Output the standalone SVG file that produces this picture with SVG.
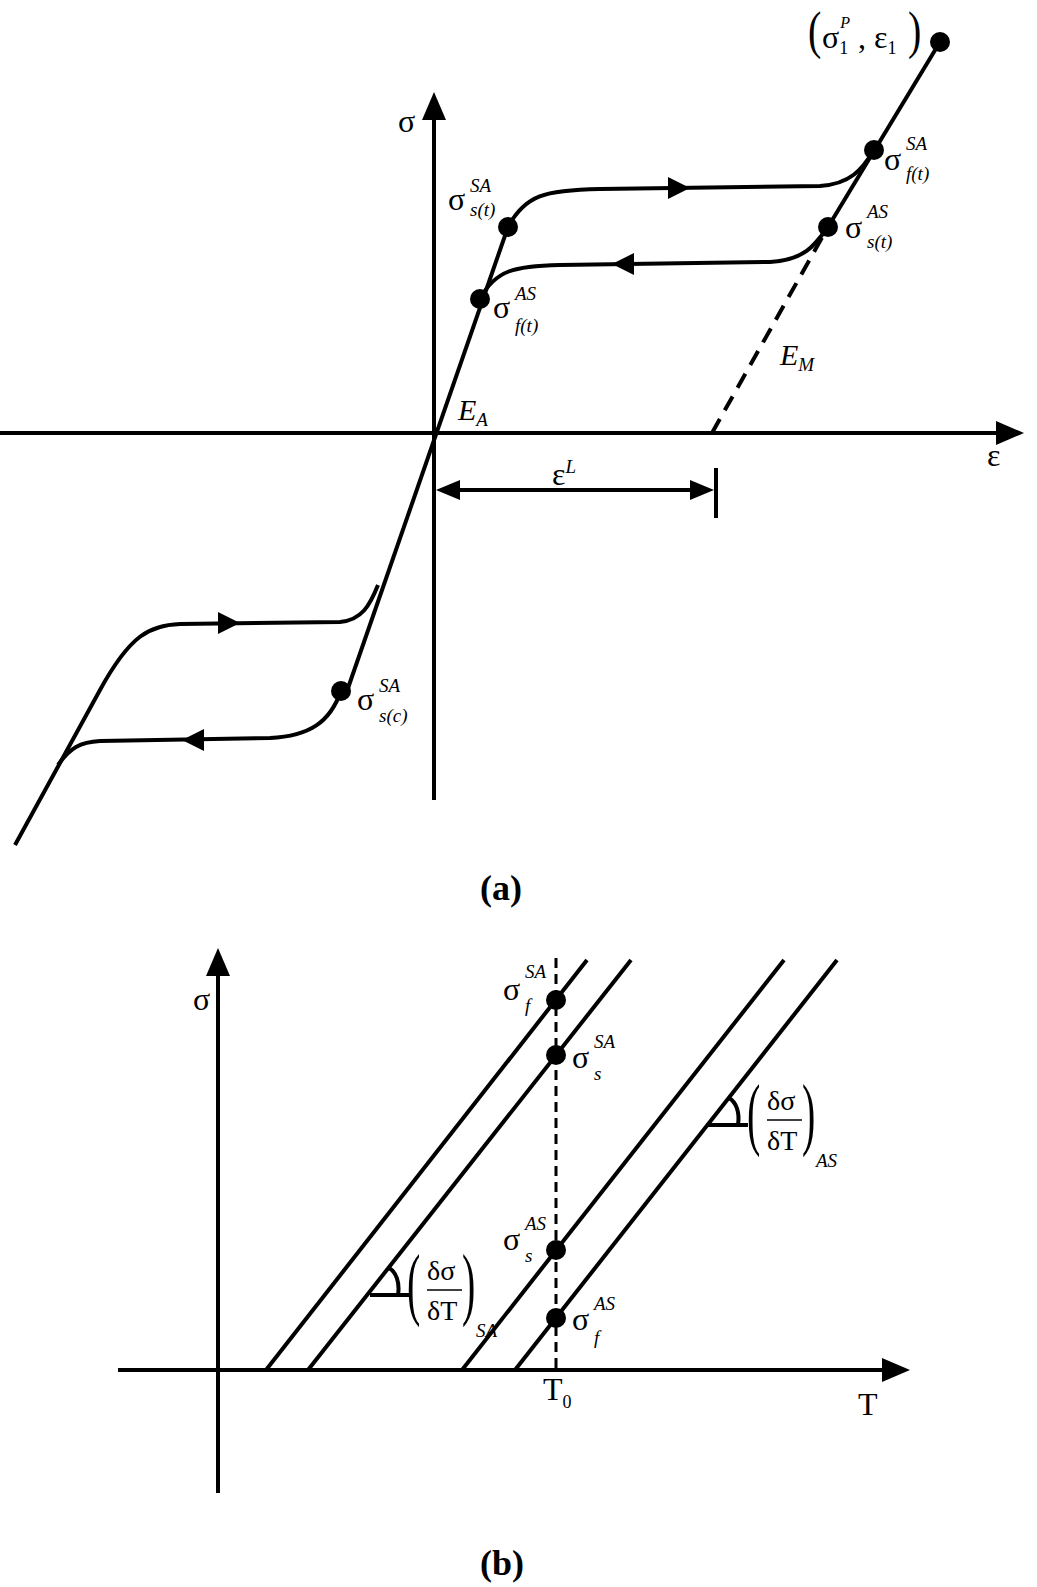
<svg xmlns="http://www.w3.org/2000/svg" width="1037" height="1587" viewBox="0 0 1037 1587">
<style>
.l{fill:none;stroke:#000;stroke-width:4}
.t{stroke-width:3}
text{font-family:"Liberation Serif",serif;fill:#000}
.g{font-size:32px}
.s{font-size:19px;font-style:italic}
.i{font-style:italic;font-size:30px}
.b{font-size:36px;font-weight:bold}
.p{font-size:40px}
</style>
<rect width="1037" height="1587" fill="#fff"/>
<g id="axes-a">
<line class="l" x1="434" y1="800" x2="434" y2="118"/>
<path d="M434 92L422 120L446 120z"/>
<line class="l" x1="0" y1="433" x2="998" y2="433"/>
<path d="M1024 433L996 421L996 445z"/>
</g>
<g id="curves-a">
<path class="l" d="M347 691L508 227"/>
<path class="l" d="M712 433L828 227" stroke-dasharray="16,10"/>
<path class="l" d="M828 227L940 42"/>
<path class="l" d="M508 227C525 195 545 190 600 189L820 186C850 184 862 170 874 150"/>
<path class="l" d="M480 299C495 270 515 266 560 265L770 262C805 260 815 245 828 227"/>
<path class="l" d="M15 845L100 690C130 635 150 625 180 624L340 622C362 620 370 605 378 585"/>
<path class="l" d="M341 691C330 722 310 736 270 738L100 741C80 742 70 748 58 765"/>
<path d="M690 188L668 177L668 199z"/>
<path d="M612 264L634 253L634 275z"/>
<path d="M240 623L218 612L218 634z"/>
<path d="M182 740L204 729L204 751z"/>
</g>
<g id="points-a">
<circle cx="508" cy="227" r="10"/>
<circle cx="480" cy="299" r="10"/>
<circle cx="874" cy="150" r="10"/>
<circle cx="828" cy="227" r="10"/>
<circle cx="940" cy="42" r="10"/>
<circle cx="341" cy="691" r="10"/>
</g>
<g id="dim-a">
<line class="l" x1="456" y1="490" x2="694" y2="490"/>
<path d="M436 490L460 480L460 500z"/>
<path d="M714 490L690 480L690 500z"/>
<line class="l" x1="716" y1="468" x2="716" y2="518"/>
</g>
<g id="labels-a">
<text class="g" x="398" y="132">σ</text>
<text class="g" x="987" y="466">ε</text>
<text class="i" x="458" y="420">E<tspan class="s" dy="6">A</tspan></text>
<text class="i" x="780" y="365">E<tspan class="s" dy="6">M</tspan></text>
<text class="g" x="552" y="485">ε<tspan class="s" dy="-12">L</tspan></text>
<text class="g" x="448" y="210">σ</text><text class="s" x="470" y="192">SA</text><text class="s" x="470" y="216">s(t)</text>
<text class="g" x="493" y="318">σ</text><text class="s" x="515" y="300">AS</text><text class="s" x="515" y="332">f(t)</text>
<text class="g" x="884" y="170">σ</text><text class="s" x="906" y="150">SA</text><text class="s" x="906" y="180">f(t)</text>
<text class="g" x="845" y="238">σ</text><text class="s" x="867" y="218">AS</text><text class="s" x="867" y="248">s(t)</text>
<text class="g" x="357" y="710">σ</text><text class="s" x="379" y="692">SA</text><text class="s" x="379" y="722">s(c)</text>
<text class="p" x="808" y="0" transform="translate(0,48) scale(1,1.3)">(</text>
<text class="g" x="822" y="48">σ<tspan font-size="18" dy="6">1</tspan><tspan font-size="16" font-style="italic" dx="-8" dy="-26">P</tspan><tspan dy="20"> , ε</tspan><tspan font-size="18" dy="6">1</tspan></text>
<text class="p" x="908" y="0" transform="translate(0,48) scale(1,1.3)">)</text>
<text class="b" x="480" y="900">(a)</text>
</g>
<g id="axes-b">
<line class="l" x1="218" y1="1493" x2="218" y2="975"/>
<path d="M218 948L206 976L230 976z"/>
<line class="l" x1="118" y1="1370" x2="885" y2="1370"/>
<path d="M910 1370L882 1358L882 1382z"/>
<line class="l t" x1="556" y1="958" x2="556" y2="1370" stroke-dasharray="10,6"/>
</g>
<g id="lines-b">
<line class="l" x1="266" y1="1370" x2="587" y2="960"/>
<line class="l" x1="308" y1="1370" x2="631" y2="960"/>
<line class="l" x1="462" y1="1370" x2="784" y2="960"/>
<line class="l" x1="515" y1="1370" x2="837" y2="960"/>
<path class="l" d="M370 1295H410M398 1295C400 1282 396 1272 389 1268"/>
<path class="l" d="M707 1125H748M738 1125C740 1112 736 1102 729 1098"/>
</g>
<g id="points-b">
<circle cx="556" cy="1000" r="10"/>
<circle cx="556" cy="1055" r="10"/>
<circle cx="556" cy="1250" r="10"/>
<circle cx="556" cy="1318" r="10"/>
</g>
<g id="labels-b">
<text class="g" x="193" y="1010">σ</text>
<text class="g" x="858" y="1415">T</text>
<text class="g" x="543" y="1400">T<tspan font-size="18" dy="8">0</tspan></text>
<text class="g" x="503" y="1000">σ</text><text class="s" x="525" y="978">SA</text><text class="s" x="525" y="1012">f</text>
<text class="g" x="572" y="1068">σ</text><text class="s" x="594" y="1048">SA</text><text class="s" x="594" y="1080">s</text>
<text class="g" x="503" y="1250">σ</text><text class="s" x="525" y="1230">AS</text><text class="s" x="525" y="1262">s</text>
<text class="g" x="572" y="1330">σ</text><text class="s" x="594" y="1310">AS</text><text class="s" x="594" y="1344">f</text>
<text class="p" x="407" y="0" transform="translate(0,1310) scale(1,2)">(</text>
<text font-size="28" x="427" y="1280">δσ</text>
<line x1="427" y1="1290" x2="462" y2="1290" stroke="#000" stroke-width="1.5"/>
<text font-size="28" x="427" y="1320">δT</text>
<text class="p" x="462" y="0" transform="translate(0,1310) scale(1,2)">)</text>
<text class="s" x="476" y="1337" font-size="15">SA</text>
<text class="p" x="747" y="0" transform="translate(0,1140) scale(1,2)">(</text>
<text font-size="28" x="767" y="1110">δσ</text>
<line x1="767" y1="1120" x2="802" y2="1120" stroke="#000" stroke-width="1.5"/>
<text font-size="28" x="767" y="1150">δT</text>
<text class="p" x="802" y="0" transform="translate(0,1140) scale(1,2)">)</text>
<text class="s" x="816" y="1167" font-size="15">AS</text>
<text class="b" x="480" y="1575">(b)</text>
</g>
</svg>
